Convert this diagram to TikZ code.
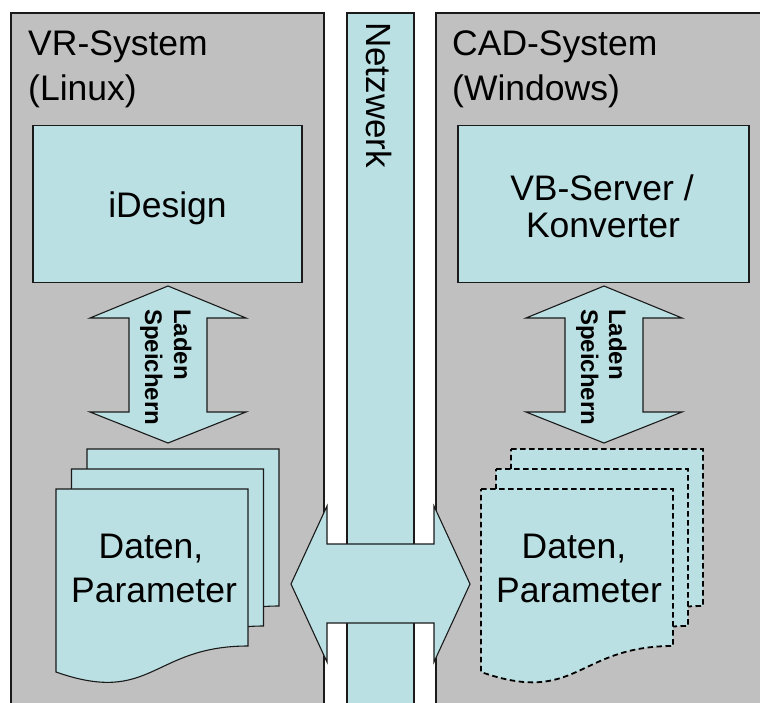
\documentclass[tikz,border=0pt]{standalone}
\usepackage{fontspec}
\setmainfont{Liberation Sans}
\definecolor{panelgray}{HTML}{C0C0C0}
\definecolor{paleblue}{HTML}{BBE0E3}
\definecolor{edge}{HTML}{1A1A1A}
\tikzset{
  panel/.style={fill=panelgray, draw=edge, line width=1.1pt},
  bluebox/.style={fill=paleblue, draw=edge, line width=1.1pt},
  dashedge/.style={fill=paleblue, draw=black, line width=1.8pt, dash pattern=on 5.5pt off 3.5pt},
  bigtext/.style={font=\fontsize{35.5}{40}\selectfont, inner sep=0pt},
  smallbold/.style={font=\bfseries\fontsize{24}{28}\selectfont, inner sep=0pt, rotate=-90, anchor=base west},
  docpage/.pic={
    \path[pic actions] (0,0) -- (192,0) -- (192,157)
      .. controls (96,157) and (96,216.8) .. (0,183) -- cycle;
  }
}
\begin{document}
\begin{tikzpicture}[x=1pt, y=-1pt]
  \path[use as bounding box] (0,0) rectangle (760,702);
  \clip (0,0) rectangle (760,702);
  \fill[white] (0,0) rectangle (760,702);

  % system panels and network bar
  \path[panel] (11,13) rectangle (324,720);
  \path[panel] (436,13) rectangle (780,720);
  \path[bluebox] (347,13) rectangle (414,720);

  % application boxes
  \node[bluebox, minimum width=269pt, minimum height=157pt, inner sep=0pt] (idesign) at (167.5,204) {};
  \node[bluebox, minimum width=291pt, minimum height=157pt, inner sep=0pt] (server) at (603.5,204) {};

  % load/save double arrows
  \path[bluebox] (168,286) -- (246,318) -- (207,318) -- (207,412) -- (246,412)
    -- (168,443) -- (90,412) -- (129,412) -- (129,318) -- (90,318) -- cycle;
  \path[bluebox] (604,286) -- (682,318) -- (643,318) -- (643,412) -- (682,412)
    -- (604,443) -- (526,412) -- (565,412) -- (565,318) -- (526,318) -- cycle;

  % data documents, VR side
  \pic[bluebox] at (87,449) {docpage};
  \pic[bluebox] at (71.5,469) {docpage};
  \pic[bluebox] at (56,489) {docpage};

  % data documents, CAD side (dashed)
  \pic[dashedge] at (511,449) {docpage};
  \pic[dashedge] at (496,469) {docpage};
  \pic[dashedge] at (481,489) {docpage};

  % network exchange arrow
  \path[bluebox] (291,584) -- (327,506) -- (327,544) -- (434,544) -- (434,506)
    -- (470,584) -- (434,662) -- (434,623) -- (327,623) -- (327,662) -- cycle;

  % labels
  \node[bigtext, anchor=base west] (vr1) at (28,55) {VR-System};
  \node[bigtext, anchor=base west] (vr2) at (28,100) {(Linux)};
  \node[bigtext, anchor=base west] (cad1) at (452,55) {CAD-System};
  \node[bigtext, anchor=base west] (cad2) at (452,100) {(Windows)};
  \node[font=\fontsize{35}{40}\selectfont, inner sep=0pt, anchor=base west, rotate=-90] (net) at (366,22) {Netzwerk};

  \node[bigtext, anchor=base] (idtext) at (167.5,217) {iDesign};
  \node[bigtext, anchor=base] (srv1) at (602,200) {VB-Server /};
  \node[bigtext, anchor=base] (srv2) at (603,237) {Konverter};

  \node[smallbold] (ld1) at (174,309) {Laden};
  \node[smallbold] (sp1) at (145,309) {Speichern};
  \node[smallbold] (ld2) at (609,309) {Laden};
  \node[smallbold] (sp2) at (581,309) {Speichern};

  \node[bigtext, anchor=base] (dl1) at (151,558) {Daten,};
  \node[bigtext, anchor=base] (dl2) at (154,602) {Parameter};
  \node[bigtext, anchor=base] (dr1) at (574,558) {Daten,};
  \node[bigtext, anchor=base] (dr2) at (579,602) {Parameter};
\end{tikzpicture}
\end{document}
